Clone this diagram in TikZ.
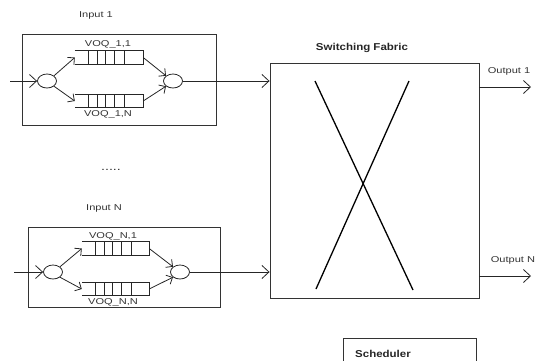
\documentclass[tikz,border=0pt]{standalone}
\usepackage{fontspec}
\setmainfont{Liberation Sans}
\usepackage{graphicx}
\usetikzlibrary{arrows.meta,shapes.geometric}
\tikzset{
 ln/.style={draw=black!85, line width=0.8pt},
 arr/.style={ln, -{Straight Barb[length=7pt,width=13pt,line width=0.8pt]}},
 sarr/.style={ln, -{Straight Barb[length=5pt,width=10pt,line width=0.8pt]}},
 boxst/.style={draw=black!80, line width=0.9pt, rectangle, inner sep=0pt},
 junc/.style={ellipse, draw=black!85, line width=0.8pt, minimum width=19pt, minimum height=14pt, inner sep=0pt},
 lbl/.style={font=\fontsize{8.5}{10}\selectfont, text=black!80, inner sep=0pt},
 blbl/.style={font=\bfseries\fontsize{10}{12}\selectfont, text=black!85, inner sep=0pt},
 qst/.style={rectangle, minimum width=68pt, minimum height=13pt, inner sep=0pt},
 xline/.style={draw=black, line width=1.3pt},
}
\newcommand\sx[1]{\scalebox{1.3}[1]{#1}}
\newcommand\bx[1]{\scalebox{1.15}[1]{#1}}
\newcommand\drawqueue[1]{%
 \draw[ln] (#1.north west) -- (#1.north east) -- (#1.south east) -- (#1.south west);
 \foreach \d in {14,23,31,40,50}{\draw[ln] ([xshift=\d pt]#1.north west) -- ([xshift=\d pt]#1.south west);}}
\begin{document}
\begin{tikzpicture}[x=1pt,y=-1pt]
\useasboundingbox (0,0) rectangle (536,360);
% ---------- Input 1 ----------
\node[lbl] (lin1) at (96,15.5) {\sx{Input 1}};
\node[boxst, minimum width=194pt, minimum height=91pt] (box1) at (119,79.5) {};
\node[junc] (c1a) at (47,81) {};
\node[junc] (c1b) at (173,81) {};
\node[qst] (q11) at (109,57.5) {};
\node[qst] (q1N) at (109,101) {};
\drawqueue{q11}
\drawqueue{q1N}
\node[lbl] (l11) at (108,44) {\sx{VOQ\_1,1}};
\node[lbl] (l1N) at (108,114) {\sx{VOQ\_1,N}};
\coordinate (in1) at (10,81);
\draw[arr] (in1) -- (c1a.west);
\draw[sarr] (c1a.north east) -- (q11.west);
\draw[sarr] (c1a.south east) -- (q1N.west);
\draw[sarr] (q11.east) -- (c1b.north west);
\draw[sarr] (q1N.east) -- (c1b.south west);
% ---------- dots ----------
\node[lbl, font=\fontsize{11}{12}\selectfont] (dots) at (111,170) {\sx{.....}};
% ---------- Input N ----------
\node[lbl] (linN) at (104,208) {\sx{Input N}};
\node[boxst, minimum width=192pt, minimum height=80pt] (boxN) at (124,267) {};
\node[junc] (cNa) at (53,272) {};
\node[junc] (cNb) at (180,272) {};
\node[qst, minimum width=67pt] (qN1) at (115.5,248.5) {};
\node[qst, minimum width=67pt] (qNN) at (115.5,289) {};
\drawqueue{qN1}
\drawqueue{qNN}
\node[lbl] (lN1) at (113,236.5) {\sx{VOQ\_N,1}};
\node[lbl] (lNN) at (113,302) {\sx{VOQ\_N,N}};
\coordinate (inN) at (14,272);
\draw[arr] (inN) -- (cNa.west);
\draw[sarr] (cNa.north east) -- (qN1.west);
\draw[sarr] (cNa.south east) -- (qNN.west);
\draw[sarr] (qN1.east) -- (cNb.north west);
\draw[sarr] (qNN.east) -- (cNb.south west);
% ---------- Switching fabric ----------
\node[blbl] (lfab) at (362,47.5) {\bx{Switching Fabric}};
\node[boxst, minimum width=209pt, minimum height=235pt] (fab) at (374.5,180.5) {};
\coordinate (x1a) at (315,81);
\coordinate (x1b) at (413,290);
\coordinate (x2a) at (409,81);
\coordinate (x2b) at (316,289);
\draw[xline] (x1a) -- (x1b);
\draw[xline] (x2a) -- (x2b);
\draw[arr] (c1b.east) -- (c1b.east -| fab.west);
\draw[arr] (cNb.east) -- (cNb.east -| fab.west);
\coordinate (o1) at (531,87);
\coordinate (oN) at (531,276);
\draw[arr] (o1 -| fab.east) -- (o1);
\draw[arr] (oN -| fab.east) -- (oN);
\node[lbl] (lo1) at (509,71) {\sx{Output 1}};
\node[lbl] (loN) at (513,260) {\sx{Output N}};
% ---------- Scheduler ----------
\node[boxst, minimum width=133pt, minimum height=42pt] (sch) at (409.5,359) {};
\node[blbl] (lsch) at (383,353.5) {\bx{Scheduler}};
\end{tikzpicture}
\end{document}
